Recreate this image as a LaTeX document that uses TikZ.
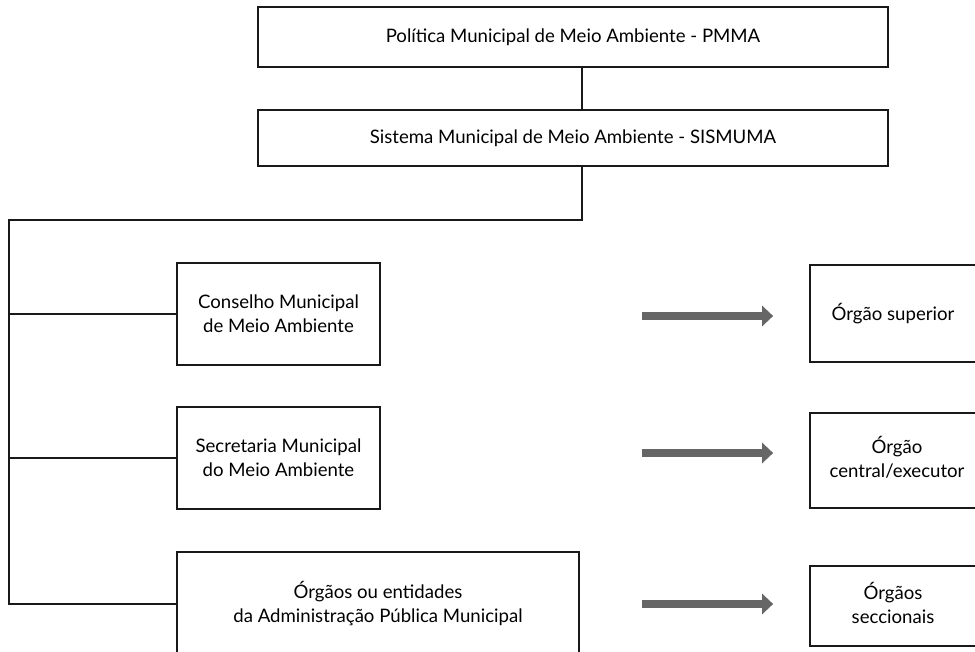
\documentclass[tikz,border=0pt]{standalone}
\usepackage{fontspec}
\setmainfont{Lato}
\usetikzlibrary{positioning,arrows.meta}

\tikzset{
    caixa/.style={draw=black!90,line width=1.7pt,align=center,inner sep=0pt,
        font=\fontsize{18.6}{24}\selectfont},
    ligacao/.style={draw=black!90,line width=1.7pt},
    seta/.style={draw=black!60,line width=8pt,
        -{Triangle[length=11pt,width=20pt]}}
}

\begin{document}
\begin{tikzpicture}[x=1pt,y=-1pt]
        \clip (0,0) rectangle (975,652);
        \fill[white] (0,0) rectangle (975,652);
        % topo
        \node[caixa,minimum width=630pt,minimum height=60pt] (pmma) at (573,37) {Política Municipal de Meio Ambiente - PMMA};
        \node[caixa,minimum width=630pt,minimum height=56pt] (sis) at (573,138) {Sistema Municipal de Meio Ambiente - SISMUMA};
        % orgaos
        \node[caixa,minimum width=203pt,minimum height=102pt] (cons) at (278.5,314) {Conselho Municipal\\de Meio Ambiente};
        \node[caixa,minimum width=203pt,minimum height=102pt] (sec) at (278.5,458) {Secretaria Municipal\\do Meio Ambiente};
        \node[caixa,minimum width=402pt,minimum height=104pt] (ent) at (378,604) {Órgãos ou entidades\\da Administração Pública Municipal};
        % funcoes
        \node[caixa,minimum width=200pt,minimum height=97pt] (sup) at (910,313.5) {\hspace*{-34pt}Órgão superior};
        \node[caixa,minimum width=200pt,minimum height=95pt] (cen) at (910,460.5) {\hspace*{-26pt}\begin{tabular}{@{}c@{}}Órgão\\central/executor\end{tabular}};
        \node[caixa,minimum width=200pt,minimum height=80pt] (seci) at (910,606) {\hspace*{-34pt}\begin{tabular}{@{}c@{}}Órgãos\\seccionais\end{tabular}};
        % ligacoes
        \coordinate (desce) at (582,220);
        \coordinate (canto) at (9,220);
        \draw[ligacao] (pmma.south -| desce) -- (sis.north -| desce);
        \draw[ligacao] (sis.south -| desce) -- (desce) -- (canto) |- (ent.west);
        \draw[ligacao] (canto |- cons.west) -- (cons.west);
        \draw[ligacao] (canto |- sec.west) -- (sec.west);
        % setas
        \foreach \b/\y in {sup/316,cen/453,seci/604}
            \draw[seta] ([xshift=-167pt]\b.west |- 0,\y) -- ([xshift=-36pt]\b.west |- 0,\y);
    \end{tikzpicture}
\end{document}
